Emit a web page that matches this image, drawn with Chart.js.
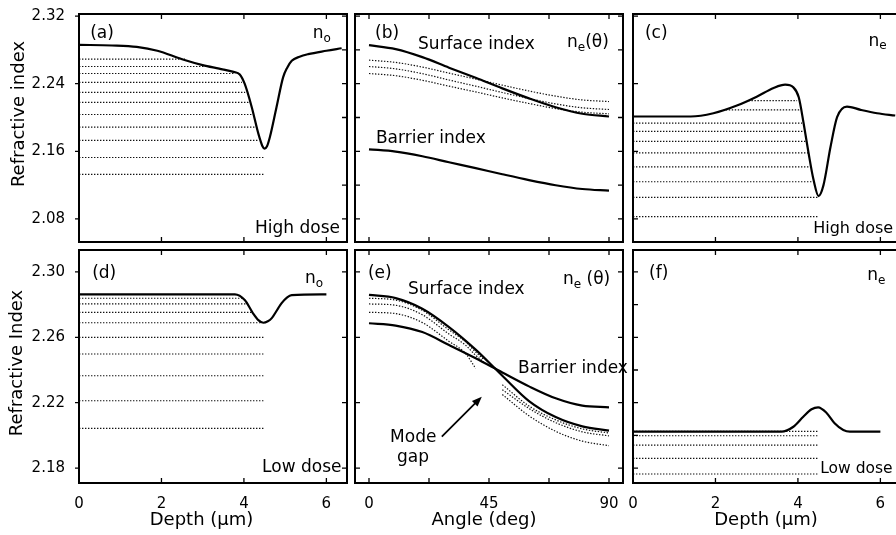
<!DOCTYPE html>
<html lang="en">
<head>
<meta charset="UTF-8">
<title>Refractive index profiles</title>
<script src="https://cdn.jsdelivr.net/npm/chart.js@4.4.1/dist/chart.umd.min.js"></script>
<style>
  html, body { margin: 0; padding: 0; background: #fff; overflow: hidden; }
  body { width: 896px; height: 535px; position: relative; }
  canvas { position: absolute; }
</style>
</head>
<body>

<canvas id="pa"></canvas>
<canvas id="pb"></canvas>
<canvas id="pc"></canvas>
<canvas id="pd"></canvas>
<canvas id="pe"></canvas>
<canvas id="pf"></canvas>

<script>
// ---- data ----

// tick positions / labels
const depthTicks = [0, 2, 4, 6];
const angleLabels = [0, 45, 90];
const angleTicks = [0, 22.5, 45, 67.5, 90];
const highTicks = [2.08, 2.16, 2.24, 2.32];
const highMinor = [2.08, 2.12, 2.16, 2.20, 2.24, 2.28, 2.32];
const lowTicks = [2.18, 2.22, 2.26, 2.30];
const lowMinor = [2.18, 2.20, 2.22, 2.24, 2.26, 2.28, 2.30];

// (a) high dose, n_o vs depth
const depthA = [0, 0.8, 1.4, 1.9, 2.5, 3.0, 3.4, 3.75, 3.9, 4.02, 4.19, 4.35, 4.45, 4.5, 4.56, 4.63, 4.79, 4.95, 5.05, 5.16, 5.35, 5.56, 6.0, 6.37];
const nA = [2.286, 2.2852, 2.2835, 2.279, 2.269, 2.262, 2.2578, 2.254, 2.251, 2.2397, 2.2122, 2.1809, 2.166, 2.1632, 2.166, 2.1769, 2.2122, 2.2475, 2.259, 2.2671, 2.272, 2.275, 2.279, 2.282];
const modesA = [2.2691, 2.2604, 2.2521, 2.2416, 2.2298, 2.218, 2.2036, 2.1886, 2.173, 2.1527, 2.1327];
const modesAEnd = [2.57, 3.02, 3.79, 3.95, 4.03, 4.11, 4.19, 4.27, 4.35, 4.5, 4.5];

// (b) high dose, n_e(theta)
const angles = [0, 10, 20, 30, 40, 50, 60, 70, 80, 90];
const surfB = [2.2856, 2.281, 2.2715, 2.259, 2.247, 2.2345, 2.2227, 2.2122, 2.2045, 2.2012];
const barB = [2.1624, 2.1597, 2.1542, 2.1471, 2.1401, 2.1329, 2.126, 2.1199, 2.1154, 2.1134];
const modeB1 = [2.2679, 2.2652, 2.2597, 2.2525, 2.2455, 2.2383, 2.2314, 2.2253, 2.2208, 2.2189];
const modeB2 = [2.2604, 2.2576, 2.2519, 2.2444, 2.2371, 2.2296, 2.2225, 2.2161, 2.2115, 2.2095];
const modeB3 = [2.2521, 2.2495, 2.2441, 2.2371, 2.2303, 2.2232, 2.2166, 2.2106, 2.2063, 2.2044];

// (c) high dose, n_e vs depth
const depthC = [0, 1.4, 1.95, 2.52, 3.0, 3.41, 3.69, 3.89, 4.02, 4.14, 4.26, 4.38, 4.5, 4.62, 4.79, 4.95, 5.19, 5.52, 5.92, 6.36];
const nC = [2.2012, 2.2012, 2.2051, 2.2142, 2.2247, 2.235, 2.2389, 2.2357, 2.2239, 2.1926, 2.1574, 2.126, 2.1071, 2.12, 2.1651, 2.2004, 2.213, 2.2091, 2.2051, 2.2024];
const modesC = [2.22, 2.2091, 2.1933, 2.1836, 2.1718, 2.1581, 2.1416, 2.124, 2.1056, 2.0828];
const modesCStart = [2.8, 2.25, 0, 0, 0, 0, 0, 0, 0, 0];
const modesCEnd = [3.98, 4.06, 4.1, 4.14, 4.18, 4.26, 4.3, 4.34, 4.5, 4.5];

// (d) low dose, n_o vs depth
const depthD = [0, 3.78, 4.02, 4.22, 4.35, 4.47, 4.58, 4.67, 4.83, 4.91, 5.05, 5.16, 6.0];
const nD = [2.2863, 2.2863, 2.2828, 2.2747, 2.2705, 2.2689, 2.2698, 2.2716, 2.2777, 2.2808, 2.2845, 2.2858, 2.2863];
const modesD = [2.2839, 2.2804, 2.2753, 2.2689, 2.26, 2.2498, 2.2365, 2.2212, 2.2043];
const modesDEnd = [3.98, 4.1, 4.22, 4.43, 4.49, 4.49, 4.49, 4.49, 4.49];

// (e) low dose, n_e(theta)
const surfE = [2.2859, 2.284, 2.2775, 2.2663, 2.2525, 2.2365, 2.221, 2.2112, 2.2055, 2.2029];
const barE = [2.2686, 2.2672, 2.2632, 2.2553, 2.2472, 2.2385, 2.23, 2.2227, 2.2182, 2.2172];
const angE = [0, 10, 20, 30, 36, 40, 43, 46, 50, 60, 70, 80, 90];
const modeE1 = [2.2839, 2.2828, 2.2765, 2.2645, 2.2575, 2.251, 2.2465, null, 2.231, 2.218, 2.2095, 2.204, 2.2015];
const modeE2 = [2.2804, 2.2796, 2.2738, 2.262, 2.2555, 2.249, 2.245, null, 2.228, 2.2165, 2.2078, 2.2022, 2.1997];
const modeE3 = [2.2753, 2.2745, 2.269, 2.2575, 2.2505, 2.241, null, null, 2.225, 2.212, 2.2025, 2.1965, 2.1937];

// (f) low dose, n_e vs depth
const depthF = [0, 3.6, 3.89, 4.13, 4.33, 4.49, 4.69, 4.89, 5.1, 5.26, 6.0];
const nF = [2.2023, 2.2023, 2.2053, 2.2114, 2.216, 2.2172, 2.2139, 2.2074, 2.2033, 2.2023, 2.2023];
const modesF = [2.2025, 2.1998, 2.1941, 2.186, 2.1764];
const modesFEnd = [4.49, 4.49, 4.49, 4.49, 4.49];

// ---- helpers ----
const FONT = '"DejaVu Sans", sans-serif';

function solid(xs, ys) {
  return {
    data: xs.map((x, i) => ({x: x, y: ys[i]})),
    borderColor: '#000', borderWidth: 2.2,
    cubicInterpolationMode: 'monotone', pointRadius: 0, fill: false
  };
}
function dotted(xs, ys) {
  return {
    data: xs.map((x, i) => ({x: x, y: ys[i]})),
    borderColor: '#111', borderWidth: 1.2, borderDash: [1.4, 1.6],
    cubicInterpolationMode: 'monotone', pointRadius: 0, fill: false
  };
}
function levels(ys, starts, ends) {
  return ys.map((y, i) => dotted([starts ? starts[i] : 0, ends[i]], [y, y]));
}

// frame, inward ticks, annotations
const decor = {
  id: 'decor',
  afterDatasetsDraw(chart, args, o) {
    const {ctx, chartArea: ca, scales: {x, y}} = chart;
    ctx.save();
    ctx.strokeStyle = '#000';
    ctx.fillStyle = '#000';
    ctx.lineWidth = 1.3;
    const tl = 5;
    ctx.beginPath();
    (o.leftTicks || []).forEach(v => {
      const p = y.getPixelForValue(v);
      if (o.leftOut) { ctx.moveTo(ca.left - 4, p); ctx.lineTo(ca.left, p); }
      else { ctx.moveTo(ca.left, p); ctx.lineTo(ca.left + tl, p); }
    });
    (o.rightTicks || []).forEach(v => {
      const p = y.getPixelForValue(v);
      ctx.moveTo(ca.right, p); ctx.lineTo(ca.right - tl, p);
    });
    (o.xTicks || []).forEach(v => {
      const p = x.getPixelForValue(v);
      ctx.moveTo(p, ca.top); ctx.lineTo(p, ca.top + tl);
      ctx.moveTo(p, ca.bottom); ctx.lineTo(p, ca.bottom - tl);
    });
    ctx.stroke();
    ctx.lineWidth = 2;
    ctx.strokeRect(ca.left, ca.top, ca.right - ca.left, ca.bottom - ca.top);

    if (o.arrow) {
      const x0 = x.getPixelForValue(o.arrow.from[0]), y0 = y.getPixelForValue(o.arrow.from[1]);
      const x1 = x.getPixelForValue(o.arrow.to[0]), y1 = y.getPixelForValue(o.arrow.to[1]);
      const ang = Math.atan2(y1 - y0, x1 - x0);
      ctx.lineWidth = 1.8;
      ctx.beginPath();
      ctx.moveTo(x0, y0);
      ctx.lineTo(x1 - 6 * Math.cos(ang), y1 - 6 * Math.sin(ang));
      ctx.stroke();
      ctx.beginPath();
      ctx.moveTo(x1, y1);
      ctx.lineTo(x1 - 10 * Math.cos(ang) + 4 * Math.sin(ang), y1 - 10 * Math.sin(ang) - 4 * Math.cos(ang));
      ctx.lineTo(x1 - 10 * Math.cos(ang) - 4 * Math.sin(ang), y1 - 10 * Math.sin(ang) + 4 * Math.cos(ang));
      ctx.closePath();
      ctx.fill();
    }

    ctx.textAlign = 'left';
    ctx.textBaseline = 'alphabetic';
    (o.notes || []).forEach(n => {
      const px = x.getPixelForValue(n.x), py = y.getPixelForValue(n.y);
      const size = n.size || 17;
      ctx.font = size + 'px ' + FONT;
      ctx.fillText(n.t, px, py);
      let w = ctx.measureText(n.t).width;
      if (n.sub) {
        ctx.font = '12px ' + FONT;
        ctx.fillText(n.sub, px + w, py + (n.drop || 4));
        w += ctx.measureText(n.sub).width;
        ctx.font = size + 'px ' + FONT;
      }
      if (n.after) ctx.fillText(n.after, px + w, py);
    });

    // axis titles, given in page coordinates
    ctx.textAlign = 'center';
    ctx.textBaseline = 'middle';
    ctx.font = '18px ' + FONT;
    (o.titles || []).forEach(n => {
      ctx.save();
      ctx.translate(n.px - o.offset[0], n.py - o.offset[1]);
      if (n.rot) ctx.rotate(n.rot * Math.PI / 180);
      ctx.fillText(n.t, 0, 0);
      ctx.restore();
    });
    ctx.restore();
  }
};

function makePanel(id, p) {
  const ml = p.ml || 24, mr = 24, mt = 24, mb = p.mb || 24;
  const cv = document.getElementById(id);
  const left = p.box[0] - ml, top = p.box[1] - mt;
  cv.width = p.box[2] - p.box[0] + ml + mr;
  cv.height = p.box[3] - p.box[1] + mt + mb;
  cv.style.left = left + 'px';
  cv.style.top = top + 'px';
  p.decor.offset = [left, top];

  new Chart(cv, {
    type: 'line',
    data: { datasets: p.datasets },
    options: {
      responsive: false,
      animation: false,
      devicePixelRatio: 1,
      layout: { padding: {left: 0, top: mt, right: mr, bottom: 0}, autoPadding: false },
      plugins: { legend: {display: false}, tooltip: {enabled: false}, decor: p.decor },
      scales: {
        x: {
          type: 'linear', min: p.x[0], max: p.x[1],
          grid: {display: false}, border: {display: false},
          afterFit: s => { s.height = mb; },
          afterBuildTicks: s => { s.ticks = p.xLabels.map(v => ({value: v})); },
          ticks: {display: !!p.showX, padding: 4, maxRotation: 0, autoSkip: false,
                  color: '#000', font: {family: FONT, size: 15}}
        },
        y: {
          type: 'linear', min: p.y[0], max: p.y[1],
          grid: {display: false}, border: {display: false},
          afterFit: s => { s.width = ml; },
          afterBuildTicks: s => { s.ticks = (p.yLabels || []).map(v => ({value: v})); },
          ticks: {display: !!p.showY, padding: 6, color: '#000', font: {family: FONT, size: 15},
                  callback: v => v.toFixed(2)}
        }
      }
    },
    plugins: [decor]
  });
}

const highY = [2.0527, 2.3225];
const lowY = [2.1709, 2.3134];
const depthX = [0, 6.5];
const angleX = [-5.25, 95.25];

makePanel('pa', {
  box: [79, 14, 347, 242], ml: 79, x: depthX, y: highY,
  xLabels: depthTicks, yLabels: highTicks, showY: true,
  datasets: [solid(depthA, nA)].concat(levels(modesA, null, modesAEnd)),
  decor: {
    leftTicks: highTicks, leftOut: true, rightTicks: highMinor, xTicks: depthTicks,
    notes: [
      {t: '(a)', x: 0.27, y: 2.2941},
      {t: 'n', sub: 'o', x: 5.67, y: 2.2945},
      {t: 'High dose', x: 4.27, y: 2.0635}
    ],
    titles: [{t: 'Refractive index', px: 19, py: 114, rot: -90}]
  }
});

makePanel('pb', {
  box: [355, 14, 623, 242], x: angleX, y: highY,
  xLabels: angleLabels,
  datasets: [solid(angles, surfB), solid(angles, barB),
             dotted(angles, modeB1), dotted(angles, modeB2), dotted(angles, modeB3)],
  decor: {
    leftTicks: highMinor, rightTicks: highMinor, xTicks: angleTicks,
    notes: [
      {t: '(b)', x: 2.25, y: 2.2941},
      {t: 'Surface index', x: 18.4, y: 2.2812},
      {t: 'n', sub: 'e', after: '(θ)', x: 74.25, y: 2.2835},
      {t: 'Barrier index', x: 2.6, y: 2.1694}
    ]
  }
});

makePanel('pc', {
  box: [633, 14, 901, 242], x: depthX, y: highY,
  xLabels: depthTicks,
  datasets: [solid(depthC, nC)].concat(levels(modesC, modesCStart, modesCEnd)),
  decor: {
    leftTicks: highTicks, rightTicks: highMinor, xTicks: depthTicks,
    notes: [
      {t: '(c)', x: 0.29, y: 2.2941},
      {t: 'n', sub: 'e', drop: 3, x: 5.71, y: 2.2847},
      {t: 'High dose', x: 4.37, y: 2.0635, size: 16}
    ]
  }
});

makePanel('pd', {
  box: [79, 250, 347, 483], ml: 79, mb: 52, x: depthX, y: lowY,
  xLabels: depthTicks, yLabels: lowTicks, showX: true, showY: true,
  datasets: [solid(depthD, nD)].concat(levels(modesD, null, modesDEnd)),
  decor: {
    leftTicks: lowTicks, leftOut: true, rightTicks: lowTicks, xTicks: depthTicks,
    notes: [
      {t: '(d)', x: 0.32, y: 2.2963},
      {t: 'n', sub: 'o', x: 5.48, y: 2.2932},
      {t: 'Low dose', x: 4.44, y: 2.1778}
    ],
    titles: [
      {t: 'Refractive Index', px: 17, py: 363, rot: -90},
      {t: 'Depth (μm)', px: 201.5, py: 520}
    ]
  }
});

makePanel('pe', {
  box: [355, 250, 623, 483], mb: 52, x: angleX, y: lowY,
  xLabels: angleLabels, showX: true,
  datasets: [solid(angles, surfE), solid(angles, barE),
             dotted(angE, modeE1), dotted(angE, modeE2), dotted(angE, modeE3)],
  decor: {
    leftTicks: lowTicks, rightTicks: lowTicks, xTicks: angleTicks,
    arrow: {from: [27.3, 2.1992], to: [42.3, 2.2237]},
    notes: [
      {t: '(e)', x: -0.4, y: 2.2963},
      {t: 'Surface index', x: 14.6, y: 2.2865},
      {t: 'n', sub: 'e', after: ' (θ)', x: 72.75, y: 2.2926},
      {t: 'Barrier index', x: 55.9, y: 2.2382},
      {t: 'Mode', x: 7.9, y: 2.196},
      {t: 'gap', x: 10.5, y: 2.1837}
    ],
    titles: [{t: 'Angle (deg)', px: 484, py: 520}]
  }
});

makePanel('pf', {
  box: [633, 250, 901, 483], mb: 52, x: depthX, y: lowY,
  xLabels: depthTicks, showX: true,
  datasets: [solid(depthF, nF)].concat(levels(modesF, null, modesFEnd)),
  decor: {
    leftTicks: lowMinor, rightTicks: lowMinor, xTicks: depthTicks,
    notes: [
      {t: '(f)', x: 0.39, y: 2.2963},
      {t: 'n', sub: 'e', x: 5.68, y: 2.295},
      {t: 'Low dose', x: 4.54, y: 2.177, size: 15.5}
    ],
    titles: [{t: 'Depth (μm)', px: 766, py: 520}]
  }
});
</script>
</body>
</html>
